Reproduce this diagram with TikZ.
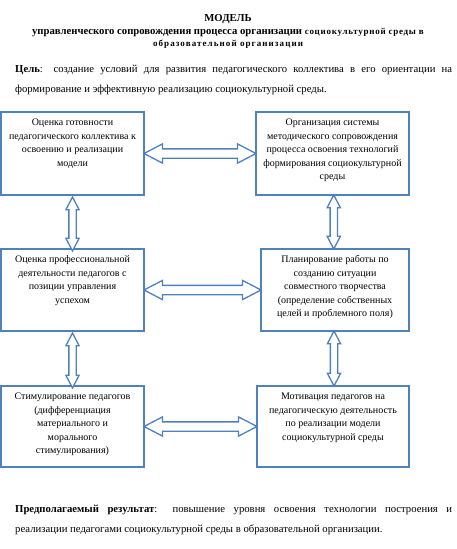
\documentclass[tikz,border=0pt]{standalone}
\usepackage{fontspec}
\setmainfont{Liberation Serif}
\usetikzlibrary{shapes.arrows,calc}
\definecolor{boxblue}{RGB}{79,129,189}
\newcommand{\boxbody}[3]{\parbox[c][#2][t]{#1}{\centering\strut #3}}

\begin{document}
\begin{tikzpicture}[x=1pt,y=-1pt,
    stage/.style={draw=boxblue, line width=2pt, fill=white, inner xsep=3pt, inner ysep=4.5pt, font=\fontsize{10}{13.5}\selectfont},
    harrow/.style={double arrow, draw=boxblue, line width=1.3pt, fill=white, inner sep=0pt, inner ysep=4pt,
        double arrow head extend=5pt, double arrow tip angle=55, double arrow head indent=0pt},
    varrow/.style={harrow, rotate=90, inner ysep=3pt, double arrow head extend=3pt}]
    \useasboundingbox (0,0) rectangle (457,549);
    % heading
    \node[anchor=north, align=center, inner sep=0pt, font=\fontsize{10.7}{13}\selectfont] (title) at (228,14)
        {\textbf{МОДЕЛЬ}\\
         \textbf{управленческого сопровождения процесса организации} {\fontsize{9}{10}\selectfont\bfseries\addfontfeature{LetterSpace=8}социокультурной среды в}\\[-1pt]
         {\fontsize{9}{10}\selectfont\bfseries\addfontfeature{LetterSpace=12}образовательной организации}};
    \node[anchor=north west, text width=437pt, align=justify, inner sep=0pt, font=\fontsize{10.7}{20}\selectfont] (goal) at (15,64.5)
        {\textbf{Цель}: создание условий для развития педагогического коллектива в его ориентации на\linebreak
         формирование и эффективную реализацию социокультурной среды.};
    % boxes
    \node[stage] (b1) at (72.5,153.5) {\boxbody{137pt}{74pt}{Оценка готовности\\ педагогического коллектива к\\ освоению и реализации\\ модели}};
    \node[stage] (b2) at (332.5,153.5) {\boxbody{147pt}{74pt}{Организация системы\\ методического сопровождения\\ процесса освоения технологий\\ формирования социокультурной\\ среды}};
    \node[stage] (b3) at (72.5,290) {\boxbody{137pt}{73pt}{Оценка профессиональной\\ деятельности педагогов с\\ позиции управления\\ успехом}};
    \node[stage] (b4) at (335,290) {\boxbody{142pt}{73pt}{Планирование работы  по\\ созданию ситуации\\ совместного творчества\\ (определение собственных\\ целей и проблемного поля)}};
    \node[stage] (b5) at (72.5,426.5) {\boxbody{137pt}{72pt}{Стимулирование педагогов\\ (дифференциация\\ материального и\\ морального\\ стимулирования)}};
    \node[stage] (b6) at (333,426.5) {\boxbody{146pt}{72pt}{Мотивация педагогов на\\ педагогическую деятельность\\ по реализации модели\\ социокультурной среды}};
    % arrows
    \node[harrow, minimum height=112pt] (a12) at ($(b1.east)!0.5!(b2.west)$) {};
    \node[harrow, minimum height=117pt] (a34) at ($(b3.east)!0.5!(b4.west)$) {};
    \node[harrow, minimum height=113pt] (a56) at ($(b5.east)!0.5!(b6.west)$) {};
    \node[varrow, minimum height=54pt, xshift=-2pt] (a13) at ($(b1.south)!0.5!(b3.north)$) {};
    \node[varrow, minimum height=55pt, xshift=-2pt] (a35) at ($(b3.south)!0.5!(b5.north)$) {};
    \node[varrow, minimum height=54pt] (a24) at ($(b2.south)!0.5!(b4.north)$) {};
    \node[varrow, minimum height=55pt] (a46) at ($(b4.south)!0.5!(b6.north)$) {};
    % result
    \node[anchor=north west, text width=437pt, align=justify, inner sep=0pt, font=\fontsize{10.7}{20}\selectfont] (result) at (15,504.5)
        {\textbf{Предполагаемый результат}: повышение уровня освоения технологии построения и\linebreak
         реализации педагогами  социокультурной среды в образовательной организации.};
\end{tikzpicture}
\end{document}
